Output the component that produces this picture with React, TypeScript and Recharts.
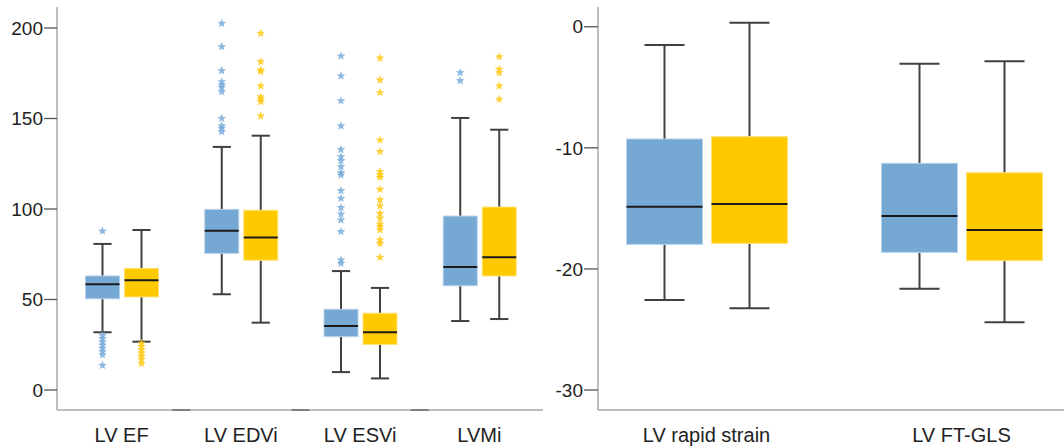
import { ComposedChart, Bar, XAxis, YAxis } from "recharts";

// left panel: volumes / mass
const volumeCategories = ["LV EF", "LV EDVi", "LV ESVi", "LVMi"];

const volumeBlueMin = [31.9, 52.9, 9.9, 38.1];
const volumeBlueQ1 = [50.4, 75.5, 29.5, 57.6];
const volumeBlueMedian = [58.4, 88.0, 35.4, 68.0];
const volumeBlueQ3 = [63.0, 99.8, 44.6, 96.1];
const volumeBlueMax = [80.7, 134.3, 65.7, 150.3];
const volumeBlueOutliers = [
  [87.8, 30.2, 28.4, 26.6, 24.8, 23.0, 21.2, 19.4, 13.6],
  [202.5, 189.7, 176.4, 170.3, 168.5, 167.2, 164.8, 150.1, 145.9, 144.6, 142.7],
  [184.5, 173.5, 159.8, 145.9, 132.9, 128.9, 126.7, 123.4, 120.1, 118.8, 110.1, 105.9, 100.7, 97.2, 93.9, 87.5, 71.8, 70.0],
  [175.3, 170.9],
];

const volumeYellowMin = [26.7, 37.2, 6.4, 39.2];
const volumeYellowQ1 = [51.4, 71.7, 25.2, 63.0];
const volumeYellowMedian = [60.6, 84.2, 31.9, 73.3];
const volumeYellowQ3 = [67.2, 99.3, 42.4, 101.1];
const volumeYellowMax = [88.4, 140.5, 56.4, 143.8];
const volumeYellowOutliers = [
  [25.8, 24.0, 22.2, 20.4, 18.6, 16.8, 14.6],
  [197.0, 181.4, 176.8, 175.9, 168.0, 162.0, 160.8, 159.3, 151.4],
  [183.3, 171.3, 164.3, 138.1, 131.7, 120.6, 118.8, 117.5, 110.9, 105.0, 101.7, 97.6, 94.9, 91.7, 90.2, 88.4, 82.9, 81.0, 73.3],
  [184.1, 177.2, 175.3, 168.0, 160.6],
];
const volumeTicks = [0, 50, 100, 150, 200];

// right panel: strain
const strainCategories = ["LV rapid strain", "LV FT-GLS"];

const strainBlueMin = [-22.57, -21.63];
const strainBlueQ1 = [-17.97, -18.63];
const strainBlueMedian = [-14.86, -15.63];
const strainBlueQ3 = [-9.27, -11.28];
const strainBlueMax = [-1.51, -3.06];

const strainYellowMin = [-23.25, -24.41];
const strainYellowQ1 = [-17.89, -19.32];
const strainYellowMedian = [-14.64, -16.79];
const strainYellowQ3 = [-9.08, -12.06];
const strainYellowMax = [0.33, -2.86];
const strainTicks = [-30, -20, -10, 0];

const volumeData = volumeCategories.map((name, i) => ({
  name,
  blue: { min: volumeBlueMin[i], q1: volumeBlueQ1[i], med: volumeBlueMedian[i], q3: volumeBlueQ3[i], max: volumeBlueMax[i], out: volumeBlueOutliers[i] },
  yellow: { min: volumeYellowMin[i], q1: volumeYellowQ1[i], med: volumeYellowMedian[i], q3: volumeYellowQ3[i], max: volumeYellowMax[i], out: volumeYellowOutliers[i] },
}));

const strainData = strainCategories.map((name, i) => ({
  name,
  blue: { min: strainBlueMin[i], q1: strainBlueQ1[i], med: strainBlueMedian[i], q3: strainBlueQ3[i], max: strainBlueMax[i], out: [] as number[] },
  yellow: { min: strainYellowMin[i], q1: strainYellowQ1[i], med: strainYellowMedian[i], q3: strainYellowQ3[i], max: strainYellowMax[i], out: [] as number[] },
}));

const BLUE = { fill: "#75a8d3", stroke: "#b5d0ea", star: "#7aaddb" };
const YELLOW = { fill: "#ffc900", stroke: "#ffe27a", star: "#ffc91a" };

const starPath = (cx: number, cy: number, R: number, r: number) => {
  let d = "";
  for (let i = 0; i < 10; i++) {
    const rad = i % 2 === 0 ? R : r;
    const a = -Math.PI / 2 + (i * Math.PI) / 5;
    d += (i === 0 ? "M" : "L") + (cx + rad * Math.cos(a)).toFixed(2) + "," + (cy + rad * Math.sin(a)).toFixed(2);
  }
  return d + "Z";
};

const makeBox = (key: "blue" | "yellow", col: typeof BLUE) => (props: any) => {
  const { x, y, width, height, payload } = props;
  const s = payload[key];
  const k = height / (s.max - s.min);
  const py = (v: number) => y + (s.max - v) * k;
  const cx = x + width / 2;
  const cap = width * 0.26;
  const top = py(s.q3);
  const bottom = py(s.q1);
  return (
    <g>
      <line x1={cx} x2={cx} y1={py(s.max)} y2={top} stroke="#404040" strokeWidth={2} />
      <line x1={cx} x2={cx} y1={bottom} y2={py(s.min)} stroke="#404040" strokeWidth={2} />
      <line x1={cx - cap} x2={cx + cap} y1={py(s.max)} y2={py(s.max)} stroke="#404040" strokeWidth={2} />
      <line x1={cx - cap} x2={cx + cap} y1={py(s.min)} y2={py(s.min)} stroke="#404040" strokeWidth={2} />
      <rect x={x + 0.5} y={top} width={width - 1} height={bottom - top} fill={col.fill} stroke={col.stroke} strokeWidth={1} />
      <line x1={x + 0.5} x2={x + width - 0.5} y1={py(s.med)} y2={py(s.med)} stroke="#1a1a1a" strokeWidth={2} />
      {s.out.map((v: number, j: number) => (
        <path key={j} d={starPath(cx, py(v), 4.6, 2.0)} fill={col.star} fillOpacity={0.85} />
      ))}
    </g>
  );
};

const VolumeTick = (props: any) => {
  const { x, y, payload, index } = props;
  const half = payload.offset || 0;
  return (
    <g>
      {index < volumeCategories.length - 1 && half > 0 && (
        <line x1={x + half - 9} x2={x + half + 9} y1={y} y2={y} stroke="#707070" strokeWidth={1.6} />
      )}
      <text x={x} y={y + 32} textAnchor="middle" fontSize={20} fill="#222">
        {payload.value}
      </text>
    </g>
  );
};

const StrainTick = (props: any) => {
  const { x, y, payload } = props;
  return (
    <text x={x} y={y + 32} textAnchor="middle" fontSize={20} fill="#222">
      {payload.value}
    </text>
  );
};

const axisLine = { stroke: "#a8a8a8", strokeWidth: 1.5 };

export default function App() {
  return (
    <div
      style={{
        position: "absolute",
        left: 0,
        top: 0,
        width: 1064,
        height: 447,
        overflow: "hidden",
        background: "#fff",
        fontFamily: "'Liberation Sans', Arial, sans-serif",
      }}
    >
      <div style={{ position: "absolute", left: 0, top: 0 }}>
        <ComposedChart
          width={545}
          height={447}
          data={volumeData}
          margin={{ top: 7, right: 2, bottom: 0, left: 0 }}
          barSize={35}
          barGap={4}
        >
          <XAxis
            dataKey="name"
            height={37}
            tickLine={false}
            tickSize={0}
            tickMargin={0}
            axisLine={axisLine}
            tick={<VolumeTick />}
            interval={0}
            padding={{ left: 5, right: 4 }}
          />
          <YAxis
            type="number"
            width={57}
            domain={[-11.05, 211.6]}
            ticks={volumeTicks}
            allowDataOverflow
            tickSize={13}
            tickMargin={1}
            axisLine={axisLine}
            tickLine={{ stroke: "#555", strokeWidth: 1.3 }}
            tick={{ fontSize: 19, fill: "#222" }}
          />
          <Bar dataKey={(d: any) => [d.blue.min, d.blue.max]} shape={makeBox("blue", BLUE)} isAnimationActive={false} />
          <Bar dataKey={(d: any) => [d.yellow.min, d.yellow.max]} shape={makeBox("yellow", YELLOW)} isAnimationActive={false} />
        </ComposedChart>
      </div>
      <div style={{ position: "absolute", left: 545, top: 0 }}>
        <ComposedChart
          width={544}
          height={447}
          data={strainData}
          margin={{ top: 7, right: 0, bottom: 0, left: 0 }}
          barSize={77}
          barGap={8}
        >
          <XAxis
            dataKey="name"
            height={37}
            tickLine={false}
            tickSize={0}
            tickMargin={0}
            axisLine={axisLine}
            tick={<StrainTick />}
            interval={0}
            padding={{ left: -19, right: 0 }}
          />
          <YAxis
            type="number"
            width={53}
            domain={[-31.65, 1.63]}
            ticks={strainTicks}
            allowDataOverflow
            tickSize={14}
            tickMargin={1}
            axisLine={axisLine}
            tickLine={{ stroke: "#555", strokeWidth: 1.3 }}
            tick={{ fontSize: 19, fill: "#222" }}
          />
          <Bar dataKey={(d: any) => [d.blue.min, d.blue.max]} shape={makeBox("blue", BLUE)} isAnimationActive={false} />
          <Bar dataKey={(d: any) => [d.yellow.min, d.yellow.max]} shape={makeBox("yellow", YELLOW)} isAnimationActive={false} />
        </ComposedChart>
      </div>
    </div>
  );
}
